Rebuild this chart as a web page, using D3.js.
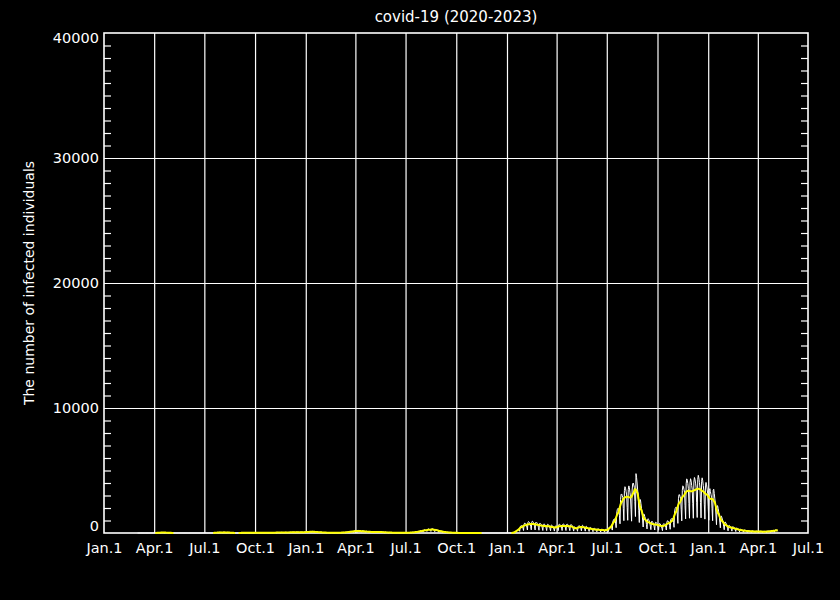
<!DOCTYPE html>
<html><head><meta charset="utf-8">
<script src="https://cdn.jsdelivr.net/npm/d3@7"></script>
<style>body{margin:0;background:#000;}svg{display:block;}</style>
</head><body><svg id="c" width="840" height="600"></svg>
<script>
const chartTitle = "covid-19 (2020-2023)";
const yAxisTitle = "The number of infected individuals";
const xTickDates = ["2020-01-01","2020-04-01","2020-07-01","2020-10-01","2021-01-01","2021-04-01","2021-07-01","2021-10-01","2022-01-01","2022-04-01","2022-07-01","2022-10-01","2023-01-01","2023-04-01","2023-07-01"];
const xTickLabels = ["Jan.1","Apr.1","Jul.1","Oct.1","Jan.1","Apr.1","Jul.1","Oct.1","Jan.1","Apr.1","Jul.1","Oct.1","Jan.1","Apr.1","Jul.1"];
const yTickValues = [0,10000,20000,30000,40000];
const yMinorStep = 1000;

// daily reported cases, one row per week (Mon..Sun), from 2020-03-02
const start2020 = "2020-03-02";
const cases2020to2021 = [
0,0,0,0,0,0,0, 0,0,0,0,0,0,0, 0,0,0,0,0,0,0, 0,0,0,0,0,0,0, 0,0,0,0,0,0,0,
11,29,33,30,27,26,19, 16,40,46,42,38,37,26, 14,35,39,36,33,31,22, 7,17,20,18,16,16,11,
0,0,0,0,0,0,0, 0,0,0,0,0,0,0, 0,0,0,0,0,0,0, 0,0,0,0,0,0,0, 0,0,0,0,0,0,0, 0,0,0,0,0,0,0,
0,0,0,0,0,0,0, 0,0,0,0,0,0,0, 0,0,0,0,0,0,0, 0,0,0,0,0,0,0, 0,0,0,0,0,0,0,
14,35,39,36,33,31,22, 20,52,58,54,50,47,34, 23,58,65,60,55,52,37, 18,46,52,48,44,42,30, 9,23,26,24,22,21,15,
0,0,0,0,0,0,0, 0,0,0,0,8,12,8,
8,21,23,22,20,19,13, 7,17,20,18,16,16,11, 7,18,19,17,16,17,11, 6,16,18,17,15,15,11,
7,17,20,18,16,16,11, 8,21,23,22,20,19,13, 9,23,26,24,22,21,15, 10,25,29,26,24,23,17,
13,32,36,34,31,29,21, 16,40,46,42,38,37,26, 18,46,52,48,44,42,30, 20,52,58,54,50,47,34,
23,58,65,60,55,52,37, 25,63,72,66,60,58,41, 27,69,78,72,66,63,45, 29,75,85,78,72,68,48,
32,80,91,84,77,74,52, 40,104,117,108,99,95,67, 45,115,130,120,110,105,75, 36,92,104,96,88,84,60,
25,63,72,66,60,58,41, 16,40,46,42,38,37,26, 11,29,33,30,27,26,19, 9,23,26,24,22,21,15,
9,24,25,23,22,22,15, 11,29,33,30,27,26,19, 18,46,52,48,44,42,30, 32,80,91,84,77,74,52,
50,126,143,132,121,115,83, 68,172,195,180,165,158,112, 72,184,208,192,176,168,120, 63,161,182,168,154,147,105,
50,126,143,132,121,115,83, 40,104,117,108,99,95,67, 36,92,104,96,88,84,60, 38,98,110,102,94,89,64,
32,80,91,84,77,74,52, 23,58,65,60,55,52,37, 16,40,46,42,38,37,26, 11,29,33,30,27,26,19,
9,23,26,24,22,21,15, 8,21,23,22,20,19,13, 9,23,26,24,22,21,15, 14,35,39,36,33,31,22,
23,58,65,60,55,52,37, 40,104,117,108,99,95,67, 68,172,195,180,165,158,112, 95,241,273,252,231,220,158,
117,299,338,312,286,273,195, 126,322,364,336,308,294,210, 104,264,299,276,253,241,173, 68,172,195,180,165,158,112,
40,104,117,108,99,95,67, 23,58,65,60,55,52,37, 14,35,39,36,33,31,22, 7,17,20,18,16,16,11,
4,9,10,10,9,8,6, 2,6,7,6,5,5,4, 1,3,4,4,3,4,2, 1,2,3,2,2,3,1,
0,1,2,1,1,1,1, 0,1,1,1,2,1,0,
0,0,0,0,0,0,0, 0,0,0,0,0,0,0, 0,0,0,0,0,0,0, 0,0,0,0,0,0,0, 0,0,0,0,0,0,0, 0,0,0,0,0,0,0, 0,0,0,0,0,0,0
];

// daily reported cases, one row per week (Mon..Sun), from 2022-01-03
const start2022 = "2022-01-03";
const cases2022to2023 = [
0,0,0,0,0,0,0,
0,0,12,35,58,70,68,
41,173,224,250,282,305,235,
133,492,572,588,575,557,392,
202,709,789,778,734,686,468,
239,840,914,884,817,749,502,
252,868,945,913,829,748,492,
243,823,880,835,758,683,449,
221,748,798,756,685,617,405,
200,680,733,701,642,583,386,
192,655,706,675,611,549,360,
177,595,634,599,541,483,315,
154,516,546,555,538,517,361,
189,652,709,685,633,581,389,
195,672,732,706,653,599,396,
197,670,722,689,629,570,377,
187,637,686,655,598,517,324,
152,488,491,438,419,397,274,
142,504,572,575,552,525,345,
170,575,612,580,526,473,308,
151,504,533,500,449,399,260,
127,424,447,420,376,334,216,
105,355,378,359,325,293,192,
95,319,339,321,291,261,171,
84,286,307,294,268,243,160,
79,270,291,278,253,263,196,
109,408,481,500,537,560,420,
233,880,1040,1104,1112,1103,793,
426,1560,1863,1959,1955,1925,1377,
735,2680,3077,3125,2990,2835,1960,
986,3400,3705,3584,3315,3045,2030,
1015,3480,3770,3625,3258,2905,1890,
945,3440,3943,4000,3841,3654,2534,
1316,4750,4450,4000,3450,2940,1820,
840,2670,2665,2344,1955,1670,1036,
480,1512,1495,1300,1165,1036,672,
327,1088,1144,1066,951,840,548,
268,900,953,896,805,729,482,
239,814,874,834,760,689,455,
221,736,772,720,641,566,364,
188,664,741,734,693,651,456,
239,859,972,975,917,855,582,
297,1039,1148,1125,1150,1155,840,
455,1680,1950,2050,2047,2016,1442,
770,2737,3072,3055,2905,2737,1882,
970,3404,3774,3713,3493,3258,2219,
1128,3934,4332,4233,3956,3570,2352,
1183,4032,4342,4150,3795,3489,2343,
1180,4072,4442,4300,3986,3667,2463,
1240,4284,4616,4416,4041,3671,2434,
1211,4128,4414,4188,3801,3423,2251,
1110,3770,4047,3856,3516,3179,2100,
1019,3384,3549,3300,3084,2860,1936,
983,3420,3500,3166,2731,2328,1441,
665,2150,2188,1969,1687,1426,875,
412,1328,1346,1204,1026,861,550,
262,856,881,803,698,600,375,
175,587,621,584,524,466,303,
148,493,520,485,431,381,246,
118,391,408,378,332,291,186,
88,288,303,284,253,224,145,
70,232,243,225,199,175,112,
55,185,198,186,168,150,98,
48,162,172,161,145,130,85,
41,138,146,138,127,116,77,
39,132,143,138,127,116,77,
38,133,142,137,126,115,78,
39,138,156,158,151,143,99,
51,182,205,204,193,183,125,
64,228,250,243,225,208,140
];

const parse = d3.utcParse("%Y-%m-%d");
const series = [];
cases2020to2021.forEach((v,i)=>series.push({date:d3.utcDay.offset(parse(start2020),i), v}));
cases2022to2023.forEach((v,i)=>series.push({date:d3.utcDay.offset(parse(start2022),i), v}));
series.forEach((d,i)=>{
  const w = series.slice(Math.max(0,i-3), Math.min(series.length,i+4));
  d.avg = d3.mean(w, e=>e.v);
});

const L=104, R=808, T=33, B=533;
const svg = d3.select("#c");
svg.append("rect").attr("width",840).attr("height",600).attr("fill","#000");
const x = d3.scaleUtc().domain([parse(xTickDates[0]), parse(xTickDates[xTickDates.length-1])]).range([L,R]);
const y = d3.scaleLinear().domain([0,40000]).range([B,T]);
const font = "DejaVu Sans, sans-serif";

// vertical gridlines
const xg = svg.append("g").attr("transform",`translate(0,${B})`)
  .call(d3.axisBottom(x).tickValues(xTickDates.slice(1,-1).map(parse)).tickSize(-(B-T)).tickFormat(""));
xg.select(".domain").remove();
xg.selectAll("line").attr("stroke","#fff").attr("stroke-width",1.2);
// horizontal gridlines
const yg = svg.append("g").attr("transform",`translate(${L},0)`)
  .call(d3.axisLeft(y).tickValues(yTickValues.slice(1,-1)).tickSize(-(R-L)).tickFormat(""));
yg.select(".domain").remove();
yg.selectAll("line").attr("stroke","#fff").attr("stroke-width",1.2);

// minor ticks left & right
const minor = d3.range(yMinorStep, 40000, yMinorStep).filter(v=>v%10000!==0);
const ml = svg.append("g").attr("transform",`translate(${L},0)`)
  .call(d3.axisRight(y).tickValues(minor).tickSize(7).tickFormat(""));
ml.select(".domain").remove();
ml.selectAll("line").attr("stroke","#fff").attr("stroke-width",1.2);
const mr = svg.append("g").attr("transform",`translate(${R},0)`)
  .call(d3.axisLeft(y).tickValues(minor).tickSize(7).tickFormat(""));
mr.select(".domain").remove();
mr.selectAll("line").attr("stroke","#fff").attr("stroke-width",1.2);

// frame
svg.append("rect").attr("x",L).attr("y",T).attr("width",R-L).attr("height",B-T)
  .attr("fill","none").attr("stroke","#fff").attr("stroke-width",1.6);

// tick labels
const xa = svg.append("g").attr("transform",`translate(0,${B})`)
  .call(d3.axisBottom(x).tickValues(xTickDates.map(parse)).tickSize(0).tickPadding(10).tickFormat((d,i)=>xTickLabels[i]));
xa.select(".domain").remove();
xa.selectAll("text").attr("fill","#fff").style("font-family",font).style("font-size","14.5px");
const ya = svg.append("g").attr("transform",`translate(${L},0)`)
  .call(d3.axisLeft(y).tickValues(yTickValues).tickSize(0).tickPadding(5).tickFormat(d3.format("d")));
ya.select(".domain").remove();
ya.selectAll("text").attr("fill","#fff").style("font-family",font).style("font-size","14.5px")
  .attr("dy",(d)=> d===0 ? "-0.2em" : (d===40000 ? "0.65em" : "0.32em"));

// data lines
svg.append("path").datum(series)
  .attr("d", d3.line().x(d=>x(d.date)).y(d=>y(d.v)))
  .attr("fill","none").attr("stroke","#fff").attr("stroke-width",1);
svg.append("path").datum(series)
  .attr("d", d3.line().defined(d=>d.avg>0).x(d=>x(d.date)).y(d=>y(d.avg)))
  .attr("fill","none").attr("stroke","#ffff00").attr("stroke-width",2);

// titles
svg.append("text").attr("x",(L+R)/2).attr("y",22).attr("text-anchor","middle")
  .attr("fill","#fff").style("font-family",font).style("font-size","15px").text(chartTitle);
svg.append("text").attr("transform",`translate(34,${(T+B)/2}) rotate(-90)`).attr("text-anchor","middle")
  .attr("fill","#fff").style("font-family",font).style("font-size","14px").text(yAxisTitle);
</script>
</body></html>
